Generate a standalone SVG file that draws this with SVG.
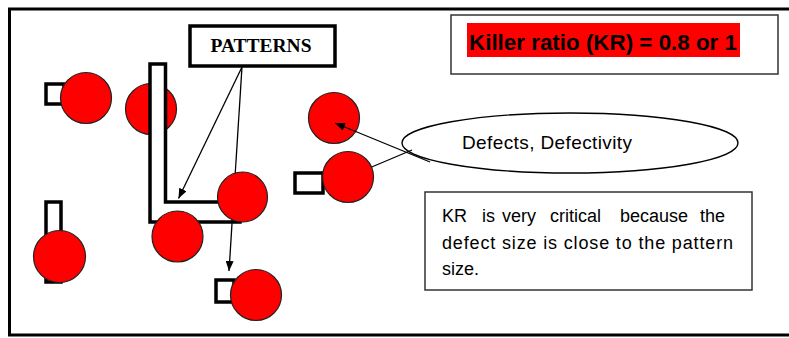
<svg xmlns="http://www.w3.org/2000/svg" width="789" height="338" viewBox="0 0 789 338">
<style>
.dot{fill:#ff0000;stroke:#222;stroke-width:1.2}
.blk{fill:#fff;stroke:#000;stroke-width:3.5}
.conn{stroke:#000;stroke-width:1.3;fill:none}
.sans{font-family:"Liberation Sans",Arial,sans-serif;fill:#000}
</style>
<defs>
<marker id="ah" markerWidth="10" markerHeight="8" refX="10" refY="4" orient="auto" markerUnits="userSpaceOnUse">
<path d="M0,0 L10,4 L0,8 Z" fill="#000"/>
</marker>
</defs>
<rect x="9.5" y="9" width="800" height="326" fill="#fff" stroke="#000" stroke-width="3"/>

<g id="square-1"><rect class="blk" x="46" y="84" width="18" height="20"/></g>
<g id="bar-bottom-left"><rect class="blk" x="46" y="202" width="15" height="80"/></g>
<g id="square-bottom"><rect class="blk" x="216" y="280" width="18" height="22"/></g>
<g id="square-right"><rect class="blk" x="295" y="173" width="28" height="20"/></g>

<g id="dot-2"><circle class="dot" cx="151" cy="109" r="25.5"/></g>
<g id="l-pattern"><path class="blk" d="M150,64 H165.5 V202 H240 V222 H150 Z"/></g>

<g id="ellipse-defects">
<ellipse cx="570" cy="143" rx="168" ry="30" fill="#fff" stroke="#000" stroke-width="1.4"/>
<text class="sans" x="462" y="149" font-size="19" textLength="170" lengthAdjust="spacing">Defects, Defectivity</text>
</g>

<g id="dot-8"><circle class="dot" cx="334" cy="118" r="25.5"/></g>

<g id="connectors">
<line class="conn" x1="242" y1="67" x2="178.5" y2="198.5" marker-end="url(#ah)"/>
<line class="conn" x1="242" y1="67" x2="229" y2="271" marker-end="url(#ah)"/>
<line class="conn" x1="430" y1="162" x2="335" y2="123" marker-end="url(#ah)"/>
<line class="conn" x1="412" y1="150" x2="348" y2="177"/>
</g>

<g id="dot-1"><circle class="dot" cx="86" cy="98" r="25.5"/></g>
<g id="dot-3"><circle class="dot" cx="177.5" cy="236.5" r="25.5"/></g>
<g id="dot-4"><circle class="dot" cx="242.5" cy="197" r="25"/></g>
<g id="dot-5"><circle class="dot" cx="59.5" cy="256.5" r="26"/></g>
<g id="dot-6"><circle class="dot" cx="256" cy="295" r="25.5"/></g>
<g id="dot-7"><circle class="dot" cx="348" cy="177" r="25.5"/></g>

<g id="patterns">
<rect x="190" y="26" width="145" height="40" fill="#fff" stroke="#000" stroke-width="3.5"/>
<text x="261" y="52" font-family="'Liberation Serif','Times New Roman',serif" font-weight="bold" font-size="19.5" text-anchor="middle">PATTERNS</text>
</g>

<g id="killer-ratio">
<rect x="451" y="15" width="327" height="59" fill="#fff" stroke="#333" stroke-width="1.5"/>
<rect x="467" y="23" width="273" height="34" fill="#ff0000"/>
<text class="sans" x="469" y="50" font-size="22" font-weight="bold" textLength="268" lengthAdjust="spacingAndGlyphs">Killer ratio (KR) = 0.8 or 1</text>
</g>

<g id="kr-note">
<rect x="425" y="192" width="327" height="98" fill="#fff" stroke="#333" stroke-width="1.5"/>
<text class="sans" y="222" font-size="18"><tspan x="442">KR</tspan><tspan x="482">is</tspan><tspan x="502">very</tspan><tspan x="550">critical</tspan><tspan x="620">because</tspan><tspan x="700">the</tspan></text>
<text class="sans" x="442" y="248.5" font-size="18" textLength="291" lengthAdjust="spacing">defect size is close to the pattern</text>
<text class="sans" x="442" y="275" font-size="18">size.</text>
</g>
</svg>
